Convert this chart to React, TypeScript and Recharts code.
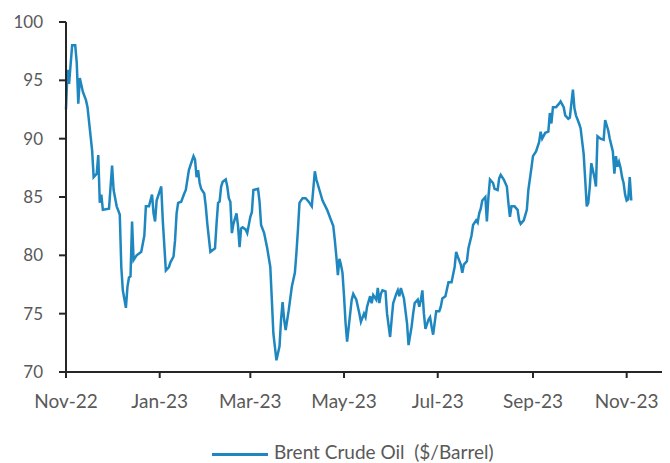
import React from 'react'
import { LineChart, Line, XAxis, YAxis, Legend } from 'recharts'

const dates = [
  '2022-11-01', '2022-11-02', '2022-11-03', '2022-11-05', '2022-11-07', '2022-11-08', '2022-11-09', '2022-11-10', '2022-11-12', '2022-11-14', '2022-11-15', '2022-11-18', '2022-11-19', '2022-11-21', '2022-11-22', '2022-11-23', '2022-11-24', '2022-11-25', '2022-11-29',
  '2022-12-01', '2022-12-02', '2022-12-04', '2022-12-06', '2022-12-07', '2022-12-08', '2022-12-10', '2022-12-11', '2022-12-12', '2022-12-13', '2022-12-14', '2022-12-15', '2022-12-17', '2022-12-20', '2022-12-22', '2022-12-23', '2022-12-25', '2022-12-27', '2022-12-28', '2022-12-29', '2022-12-30',
  '2023-01-02', '2023-01-03', '2023-01-05', '2023-01-07', '2023-01-08', '2023-01-10', '2023-01-11', '2023-01-12', '2023-01-13', '2023-01-15', '2023-01-17', '2023-01-18', '2023-01-20', '2023-01-23', '2023-01-24', '2023-01-25', '2023-01-26', '2023-01-27', '2023-01-28', '2023-01-30', '2023-01-31',
  '2023-02-01', '2023-02-03', '2023-02-05', '2023-02-06', '2023-02-07', '2023-02-08', '2023-02-09', '2023-02-10', '2023-02-11', '2023-02-13', '2023-02-14', '2023-02-15', '2023-02-16', '2023-02-17', '2023-02-18', '2023-02-20', '2023-02-21', '2023-02-22', '2023-02-23', '2023-02-24', '2023-02-26', '2023-02-27',
  '2023-03-01', '2023-03-02', '2023-03-03', '2023-03-06', '2023-03-07', '2023-03-08', '2023-03-10', '2023-03-12', '2023-03-14', '2023-03-15', '2023-03-16', '2023-03-18', '2023-03-19', '2023-03-20', '2023-03-21', '2023-03-22', '2023-03-23', '2023-03-24', '2023-03-26', '2023-03-28', '2023-03-29', '2023-03-30', '2023-03-31',
  '2023-04-01', '2023-04-02', '2023-04-04', '2023-04-06', '2023-04-08', '2023-04-10', '2023-04-12', '2023-04-13', '2023-04-15', '2023-04-17', '2023-04-20', '2023-04-22', '2023-04-24', '2023-04-25', '2023-04-26', '2023-04-27', '2023-04-28', '2023-04-29', '2023-04-30',
  '2023-05-01', '2023-05-02', '2023-05-03', '2023-05-05', '2023-05-06', '2023-05-07', '2023-05-09', '2023-05-11', '2023-05-12', '2023-05-14', '2023-05-15', '2023-05-16', '2023-05-18', '2023-05-19', '2023-05-20', '2023-05-22', '2023-05-23', '2023-05-24', '2023-05-25', '2023-05-26', '2023-05-28', '2023-05-29', '2023-05-31',
  '2023-06-01', '2023-06-02', '2023-06-04', '2023-06-05', '2023-06-06', '2023-06-07', '2023-06-09', '2023-06-11', '2023-06-12', '2023-06-14', '2023-06-15', '2023-06-16', '2023-06-18', '2023-06-19', '2023-06-20', '2023-06-21', '2023-06-22', '2023-06-23', '2023-06-25', '2023-06-26', '2023-06-27', '2023-06-28', '2023-06-29', '2023-06-30',
  '2023-07-02', '2023-07-03', '2023-07-04', '2023-07-06', '2023-07-08', '2023-07-10', '2023-07-12', '2023-07-13', '2023-07-14', '2023-07-16', '2023-07-17', '2023-07-18', '2023-07-20', '2023-07-21', '2023-07-23', '2023-07-24', '2023-07-26', '2023-07-27', '2023-07-28', '2023-07-29', '2023-07-30',
  '2023-08-01', '2023-08-02', '2023-08-03', '2023-08-04', '2023-08-06', '2023-08-07', '2023-08-09', '2023-08-10', '2023-08-11', '2023-08-13', '2023-08-15', '2023-08-16', '2023-08-17', '2023-08-18', '2023-08-20', '2023-08-22', '2023-08-23', '2023-08-24', '2023-08-26', '2023-08-28', '2023-08-29', '2023-08-31',
  '2023-09-01', '2023-09-03', '2023-09-05', '2023-09-06', '2023-09-07', '2023-09-09', '2023-09-11', '2023-09-12', '2023-09-13', '2023-09-14', '2023-09-16', '2023-09-18', '2023-09-19', '2023-09-21', '2023-09-22', '2023-09-24', '2023-09-25', '2023-09-27', '2023-09-28', '2023-09-29',
  '2023-10-01', '2023-10-02', '2023-10-04', '2023-10-05', '2023-10-06', '2023-10-07', '2023-10-08', '2023-10-09', '2023-10-10', '2023-10-11', '2023-10-12', '2023-10-13', '2023-10-15', '2023-10-17', '2023-10-18', '2023-10-20', '2023-10-21', '2023-10-23', '2023-10-24', '2023-10-25', '2023-10-26', '2023-10-27', '2023-10-28', '2023-10-29', '2023-10-30', '2023-10-31',
  '2023-11-01', '2023-11-02', '2023-11-03', '2023-11-04',
]

// $/barrel, same order as dates
const brent = [
  92.5, 95.9, 94.7, 98.0, 98.0, 96.5, 93.0, 95.2, 94.0, 93.3, 92.7, 89.0, 86.7, 87.0, 88.6, 84.5, 85.2, 83.9, 84.0,
  87.7, 85.6, 84.2, 83.5, 79.0, 77.0, 75.5, 77.3, 78.1, 78.2, 82.9, 79.6, 80.0, 80.3, 81.7, 84.2, 84.2, 85.2, 83.6, 82.9, 84.7,
  85.9, 83.0, 78.7, 79.0, 79.4, 79.9, 81.3, 83.6, 84.5, 84.6, 85.3, 85.6, 87.3, 88.5, 88.2, 86.7, 87.3, 86.2, 85.7, 85.3, 84.2,
  82.7, 80.3, 80.5, 80.6, 82.7, 84.5, 84.6, 85.9, 86.3, 86.5, 85.9, 84.9, 84.6, 81.9, 82.7, 83.6, 82.5, 80.7, 82.3, 82.4, 82.2, 81.9,
  83.3, 83.7, 85.6, 85.7, 84.6, 82.6, 81.9, 80.6, 79.0, 76.2, 73.3, 71.0, 71.6, 72.2, 74.5, 76.0, 74.5, 73.6, 75.3, 77.3, 77.9, 78.5, 80.2,
  82.2, 84.5, 84.9, 84.9, 84.6, 84.2, 87.2, 86.5, 85.6, 84.7, 83.9, 83.2, 82.5, 81.3, 79.9, 78.3, 79.7, 79.2, 78.5,
  76.5, 74.2, 72.6, 75.0, 76.2, 76.7, 76.2, 75.0, 74.3, 75.0, 74.7, 75.6, 76.5, 75.9, 76.6, 76.2, 77.2, 75.9, 76.7, 77.0, 76.9, 75.0, 73.0,
  74.5, 75.9, 76.7, 77.0, 76.5, 77.2, 76.3, 74.2, 72.3, 73.9, 75.0, 75.9, 76.2, 75.6, 76.2, 77.0, 75.0, 73.7, 74.5, 74.7, 73.9, 73.2, 74.2, 75.2,
  75.2, 75.6, 76.3, 76.5, 77.7, 77.7, 79.0, 80.3, 79.9, 79.2, 78.5, 79.2, 79.5, 80.6, 81.7, 82.6, 83.0, 82.8, 83.6, 84.0, 84.7,
  85.0, 82.9, 85.0, 86.5, 86.2, 85.7, 85.6, 86.6, 86.9, 86.5, 85.9, 84.5, 83.3, 84.2, 84.2, 83.9, 83.0, 82.7, 83.0, 83.9, 85.6, 87.5,
  88.5, 88.9, 89.7, 90.6, 90.0, 90.5, 90.6, 92.2, 91.3, 92.7, 92.7, 93.0, 93.2, 92.7, 92.0, 91.7, 91.8, 94.2, 92.6, 92.0,
  91.3, 90.9, 88.7, 86.5, 84.2, 84.5, 85.9, 87.9, 87.3, 86.7, 85.9, 90.2, 90.0, 89.9, 91.6, 90.7, 90.0, 88.9, 87.0, 88.5, 87.6, 88.0, 87.5, 86.7, 86.2, 85.2,
  84.7, 84.8, 86.7, 84.7,
]

const tickDates = ['2022-11-01', '2023-01-01', '2023-03-01', '2023-05-01', '2023-07-01', '2023-09-01', '2023-11-01']
const tickLabels = ['Nov-22', 'Jan-23', 'Mar-23', 'May-23', 'Jul-23', 'Sep-23', 'Nov-23']
const yTicks = [70, 75, 80, 85, 90, 95, 100]

const tickTimes = tickDates.map(d => Date.parse(d))
const data = dates.map((d, i) => ({ t: Date.parse(d), brent: brent[i] }))
const xStart = Date.parse('2022-11-01')
const xEnd = Date.parse('2023-11-24')

const axisColor = '#262626'
const textColor = '#595959'
const lineColor = '#1f87bf'

const LegendContent = () =>
  <div style={{
    height: 28, paddingTop: 6, paddingLeft: 204, boxSizing: 'border-box',
    display: 'flex', alignItems: 'center',
    fontFamily: 'Lato', fontSize: 19, lineHeight: '20px', color: textColor, whiteSpace: 'pre',
  }}>
    <span style={{ display: 'inline-block', width: 56, height: 3, background: lineColor, marginRight: 6, marginTop: 4 }} />
    <span>Brent Crude Oil  ($/Barrel)</span>
  </div>

const App = () =>
  <LineChart
    width={654}
    height={455}
    data={data}
    margin={{ top: 14, right: 0, bottom: 0, left: 0 }}
  >
    <XAxis
      dataKey="t"
      type="number"
      domain={[xStart, xEnd]}
      ticks={tickTimes}
      interval={0}
      tickFormatter={(v: number) => tickLabels[tickTimes.indexOf(v)]}
      height={63}
      tickSize={6}
      tickMargin={17}
      axisLine={{ stroke: axisColor, strokeWidth: 2 }}
      tickLine={{ stroke: axisColor, strokeWidth: 2 }}
      tick={{ fill: textColor, fontSize: 19, fontFamily: 'Lato' }}
    />
    <YAxis
      domain={[70, 100]}
      ticks={yTicks}
      interval={0}
      width={58}
      tickSize={7}
      tickMargin={16}
      axisLine={{ stroke: axisColor, strokeWidth: 2 }}
      tickLine={{ stroke: axisColor, strokeWidth: 2 }}
      tick={{ fill: textColor, fontSize: 17, fontFamily: 'Lato' }}
    />
    <Legend verticalAlign="bottom" content={() => <LegendContent />} wrapperStyle={{ left: 0, width: 654 }} />
    <Line
      type="linear"
      dataKey="brent"
      stroke={lineColor}
      strokeWidth={2.5}
      dot={false}
      isAnimationActive={false}
    />
  </LineChart>

export default App
